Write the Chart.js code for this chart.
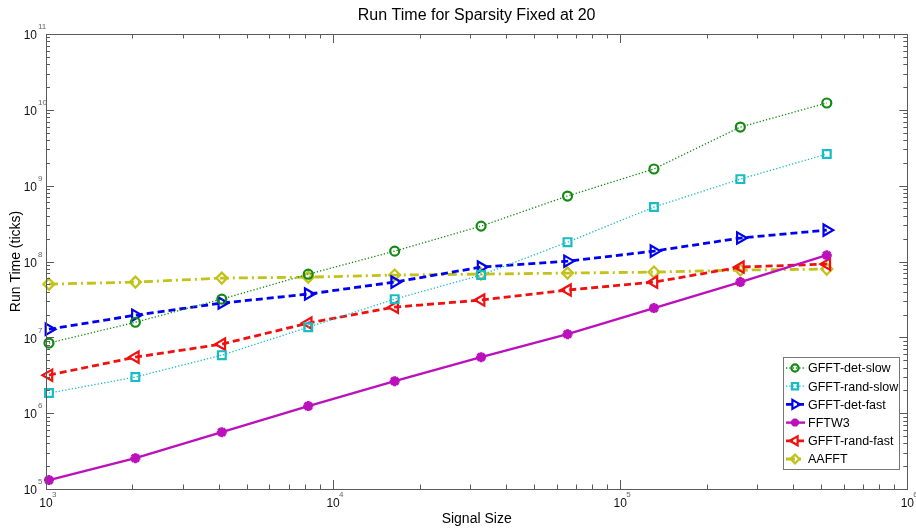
<!DOCTYPE html>
<html>
<head>
  <meta charset="utf-8">
  <title>Run Time for Sparsity Fixed at 20</title>
  <style>
    body { margin: 0; background: #fff; }
    .chart-container { position: relative; width: 916px; height: 531px; }
  </style>
</head>
<body>
  <div class="chart-container">
    <canvas id="myChart" aria-label="Chart" role="img"></canvas>
  </div>

  <script src="https://cdn.jsdelivr.net/npm/chart.js"></script>
  <script>
    // data
    const signalSizes = [1024, 2048, 4096, 8192, 16384, 32768, 65536, 131072, 262144, 524288];
    const detSlow  = [8.4e6, 1.58e7, 3.19e7, 6.8e7, 1.37e8, 2.93e8, 7.3e8, 1.66e9, 5.93e9, 1.23e10];
    const randSlow = [1.84e6, 2.99e6, 5.82e6, 1.36e7, 3.19e7, 6.62e7, 1.80e8, 5.22e8, 1.22e9, 2.61e9];
    const detFast  = [1.28e7, 1.96e7, 2.83e7, 3.72e7, 5.35e7, 8.44e7, 1.01e8, 1.37e8, 2.04e8, 2.59e8];
    const fftw3    = [1.31e5, 2.55e5, 5.61e5, 1.24e6, 2.64e6, 5.48e6, 1.10e7, 2.43e7, 5.35e7, 1.21e8];
    const randFast = [3.17e6, 5.48e6, 8.13e6, 1.54e7, 2.50e7, 3.10e7, 4.20e7, 5.35e7, 8.44e7, 9.24e7];
    const aafft    = [5.03e7, 5.35e7, 6.04e7, 6.22e7, 6.62e7, 6.82e7, 7.03e7, 7.25e7, 7.71e7, 7.94e7];

    // tick labels: 10^p
    const xPowers = [3, 4, 5, 6];
    const yPowers = [5, 6, 7, 8, 9, 10, 11];

    const titleText = 'Run Time for Sparsity Fixed at 20';
    const xTitle = 'Signal Size';
    const yTitle = 'Run Time (ticks)';
    const FONT = '"Liberation Sans", Arial, sans-serif';

    function pts(vals) {
      return vals.map((v, i) => ({ x: signalSizes[i], y: v }));
    }

    function series(label, vals, color, style) {
      return Object.assign({
        label: label,
        data: pts(vals),
        borderColor: color,
        pointBorderColor: color,
        backgroundColor: 'rgba(0,0,0,0)',
        pointBackgroundColor: 'rgba(0,0,0,0)',
        tension: 0,
        clip: false,
        fill: false
      }, style);
    }

    const datasets = [
      series('GFFT-det-slow', detSlow, '#138a13', {
        borderWidth: 1.3, borderDash: [1.3, 2], pointStyle: 'circle', pointRadius: 4.5, pointBorderWidth: 2.2
      }),
      series('GFFT-rand-slow', randSlow, '#19bcc4', {
        borderWidth: 1.3, borderDash: [1.3, 2], pointStyle: 'rect', pointRadius: 5.5, pointBorderWidth: 2.2
      }),
      series('GFFT-det-fast', detFast, '#0000f0', {
        borderWidth: 2.8, borderDash: [7, 4], pointStyle: 'triangle', pointRotation: 90, pointRadius: 6.5, pointBorderWidth: 2.2
      }),
      series('FFTW3', fftw3, '#bb10bb', {
        borderWidth: 2.4, borderDash: [], pointStyle: 'star', pointRadius: 5, pointBorderWidth: 3
      }),
      series('GFFT-rand-fast', randFast, '#f01010', {
        borderWidth: 2.8, borderDash: [7, 4], pointStyle: 'triangle', pointRotation: 270, pointRadius: 6.5, pointBorderWidth: 2.2
      }),
      series('AAFFT', aafft, '#c2c21a', {
        borderWidth: 2.8, borderDash: [9, 4, 2, 4], pointStyle: 'rectRot', pointRadius: 5.5, pointBorderWidth: 2.2
      })
    ];

    // axes box, inward ticks, 10^p labels, titles and legend
    const decor = {
      id: 'decor',
      afterDraw(chart) {
        const ctx = chart.ctx;
        const a = chart.chartArea;
        const xs = chart.scales.x, ys = chart.scales.y;
        ctx.save();

        // box
        ctx.strokeStyle = '#5a5a5a';
        ctx.lineWidth = 1;
        ctx.strokeRect(Math.round(a.left) + 0.5, Math.round(a.top) + 0.5,
          Math.round(a.right - a.left), Math.round(a.bottom - a.top));

        // ticks
        ctx.beginPath();
        for (let p = xPowers[0]; p <= xPowers[xPowers.length - 1]; p++) {
          for (let m = 1; m <= 9; m++) {
            const v = m * Math.pow(10, p);
            if (v > Math.pow(10, xPowers[xPowers.length - 1])) break;
            const px = Math.round(xs.getPixelForValue(v)) + 0.5;
            const len = m === 1 ? 9 : 4.5;
            ctx.moveTo(px, a.bottom); ctx.lineTo(px, a.bottom - len);
            ctx.moveTo(px, a.top); ctx.lineTo(px, a.top + len);
          }
        }
        for (let p = yPowers[0]; p <= yPowers[yPowers.length - 1]; p++) {
          for (let m = 1; m <= 9; m++) {
            const v = m * Math.pow(10, p);
            if (v > Math.pow(10, yPowers[yPowers.length - 1])) break;
            const py = Math.round(ys.getPixelForValue(v)) + 0.5;
            const len = m === 1 ? 8 : 4;
            ctx.moveTo(a.left, py); ctx.lineTo(a.left + len, py);
            ctx.moveTo(a.right, py); ctx.lineTo(a.right - len, py);
          }
        }
        ctx.stroke();

        // tick labels
        xPowers.forEach(p => {
          const px = xs.getPixelForValue(Math.pow(10, p));
          ctx.fillStyle = '#111';
          ctx.font = '12px ' + FONT;
          ctx.textAlign = 'center';
          ctx.textBaseline = 'middle';
          ctx.fillText('10', px, a.bottom + 15);
          ctx.fillStyle = '#666';
          ctx.font = '8px ' + FONT;
          ctx.textAlign = 'left';
          ctx.fillText(String(p), px + 6, a.bottom + 6);
        });
        yPowers.forEach(p => {
          const py = ys.getPixelForValue(Math.pow(10, p));
          ctx.fillStyle = '#111';
          ctx.font = '12px ' + FONT;
          ctx.textAlign = 'right';
          ctx.textBaseline = 'middle';
          ctx.fillText('10', a.left - 9, py + 2);
          ctx.fillStyle = '#666';
          ctx.font = '8px ' + FONT;
          ctx.textAlign = 'left';
          ctx.fillText(String(p), a.left - 8, py - 7);
        });

        // titles
        const cx = (a.left + a.right) / 2;
        ctx.fillStyle = '#000';
        ctx.textAlign = 'center';
        ctx.textBaseline = 'middle';
        ctx.font = '16px ' + FONT;
        ctx.fillText(titleText, cx, 16);
        ctx.font = '14px ' + FONT;
        ctx.fillText(xTitle, cx, 519);
        ctx.save();
        ctx.translate(16, (a.top + a.bottom) / 2);
        ctx.rotate(-Math.PI / 2);
        ctx.fillText(yTitle, 0, 0);
        ctx.restore();

        // legend box (inside the plot, lower right)
        const lx = 783, ly = 357, lw = 116, lh = 112, rowH = 18.2;
        ctx.fillStyle = '#fff';
        ctx.fillRect(lx, ly, lw, lh);
        ctx.strokeStyle = '#777';
        ctx.lineWidth = 1;
        ctx.strokeRect(lx + 0.5, ly + 0.5, lw, lh);
        chart.data.datasets.forEach((ds, i) => {
          const yy = ly + 11 + i * rowH;
          ctx.save();
          ctx.strokeStyle = ds.borderColor;
          ctx.lineWidth = ds.borderWidth;
          ctx.setLineDash(ds.borderDash || []);
          ctx.beginPath();
          ctx.moveTo(lx + 3, yy);
          ctx.lineTo(lx + 22, yy);
          ctx.stroke();
          ctx.setLineDash([]);
          ctx.fillStyle = 'rgba(0,0,0,0)';
          ctx.lineWidth = ds.pointBorderWidth;
          Chart.helpers.drawPoint(ctx, {
            pointStyle: ds.pointStyle,
            rotation: ds.pointRotation || 0,
            radius: ds.pointRadius * 0.8,
            borderWidth: ds.pointBorderWidth
          }, lx + 12, yy);
          ctx.restore();
          ctx.fillStyle = '#000';
          ctx.font = '12.5px ' + FONT;
          ctx.textAlign = 'left';
          ctx.textBaseline = 'middle';
          ctx.fillText(ds.label, lx + 25, yy + 1);
        });

        ctx.restore();
      }
    };

    const config = {
      type: 'line',
      data: { datasets: datasets },
      options: {
        responsive: true,
        maintainAspectRatio: false,
        animation: false,
        layout: { padding: { left: 46, right: 5, top: 34, bottom: 42 } },
        plugins: {
          legend: { display: false },
          title: { display: false },
          tooltip: { enabled: false }
        },
        scales: {
          x: {
            type: 'logarithmic',
            display: false,
            min: Math.pow(10, xPowers[0]),
            max: Math.pow(10, xPowers[xPowers.length - 1])
          },
          y: {
            type: 'logarithmic',
            display: false,
            min: Math.pow(10, yPowers[0]),
            max: Math.pow(10, yPowers[yPowers.length - 1])
          }
        }
      },
      plugins: [decor]
    };

    var ctx = document.getElementById('myChart').getContext('2d');
    var myChart = new Chart(ctx, config);
  </script>
</body>
</html>
